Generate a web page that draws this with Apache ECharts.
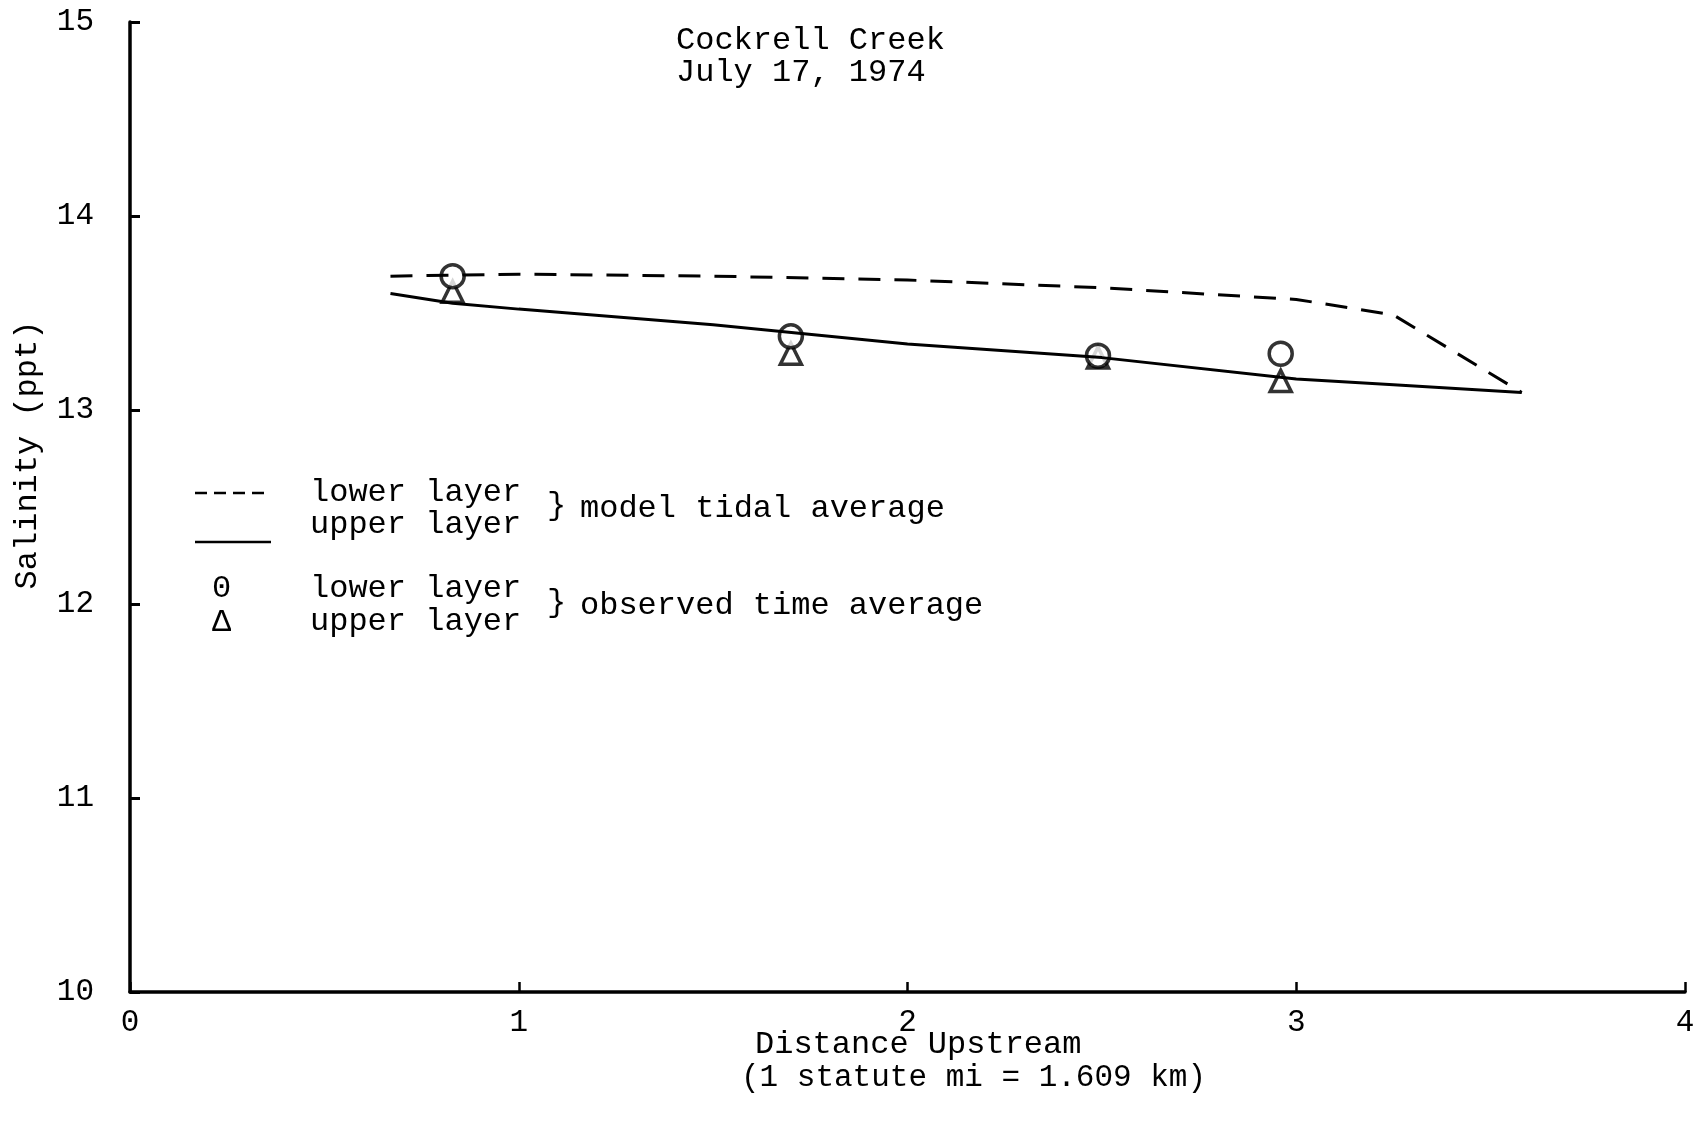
<!DOCTYPE html>
<html>
<head>
<meta charset="utf-8">
<script src="https://cdn.jsdelivr.net/npm/echarts@6/dist/echarts.min.js"></script>
<style>html,body{margin:0;padding:0;background:#fff}#c{width:1698px;height:1124px}</style>
</head>
<body>
<div id="c"></div>
<script>
// ---- data ----
const xTickValues = [0, 1, 2, 3, 4];
const yTickValues = [10, 11, 12, 13, 14, 15];
const modelLowerX = [0.67, 1.0, 1.5, 2.0, 2.5, 3.0, 3.25, 3.58];
const modelLowerY = [13.69, 13.70, 13.69, 13.67, 13.63, 13.57, 13.49, 13.09];
const modelUpperX = [0.67, 0.83, 1.0, 1.5, 2.0, 2.5, 3.0, 3.25, 3.58];
const modelUpperY = [13.60, 13.55, 13.52, 13.44, 13.34, 13.27, 13.16, 13.13, 13.09];
const obsX = [0.83, 1.70, 2.49, 2.96];
const obsLowerY = [13.69, 13.38, 13.28, 13.29];
const obsUpperY = [13.61, 13.29, 13.27, 13.15];
const titleLines = ['Cockrell Creek', 'July 17, 1974'];
const yAxisTitle = 'Salinity (ppt)';
const xAxisTitle = ['Distance Upstream', '(1 statute mi = 1.609 km)'];

const zip = (xs, ys) => xs.map((x, i) => [x, ys[i]]);
const FONT = '"Liberation Mono", "DejaVu Sans Mono", monospace';
const FS = 32;

const chart = echarts.init(document.getElementById('c'), null, {renderer: 'canvas'});
const txt = (left, top, text, size) => ({
  type: 'text', left, top,
  style: {text, font: (size || FS) + 'px ' + FONT, fill: '#000'}
});

chart.setOption({
  animation: false,
  backgroundColor: '#fff',
  grid: {left: 130, right: 13, top: 22, bottom: 132, containLabel: false},
  xAxis: {
    type: 'value', min: 0, max: 4, interval: 1,
    axisLine: {show: true, lineStyle: {color: '#000', width: 3.5}},
    axisTick: {show: true, inside: true, length: 10, lineStyle: {color: '#000', width: 2.5}},
    axisLabel: {margin: 15, fontFamily: FONT, fontSize: FS - 1, color: '#000',
      customValues: xTickValues},
    splitLine: {show: false}
  },
  yAxis: {
    type: 'value', min: 10, max: 15, interval: 1,
    axisLine: {show: true, lineStyle: {color: '#000', width: 3.5}},
    axisTick: {show: true, inside: true, length: 10, lineStyle: {color: '#000', width: 3}},
    axisLabel: {margin: 36, fontFamily: FONT, fontSize: FS - 1, color: '#000',
      customValues: yTickValues},
    splitLine: {show: false}
  },
  series: [
    {type: 'line', name: 'model lower layer', data: zip(modelLowerX, modelLowerY),
      showSymbol: false, symbol: 'none',
      lineStyle: {color: '#000', width: 3, type: [22, 14]}},
    {type: 'line', name: 'model upper layer', data: zip(modelUpperX, modelUpperY),
      showSymbol: false, symbol: 'none',
      lineStyle: {color: '#000', width: 3}},
    {type: 'scatter', name: 'observed upper layer', data: zip(obsX, obsUpperY),
      symbol: 'triangle', symbolSize: 21,
      itemStyle: {color: '#fff', borderColor: '#000', borderWidth: 3.5}},
    {type: 'scatter', name: 'observed lower layer', data: zip(obsX, obsLowerY),
      symbol: 'circle', symbolSize: 23,
      itemStyle: {color: '#fff', borderColor: '#000', borderWidth: 3.5}}
  ],
  graphic: [
    txt(676, 25, titleLines[0]),
    txt(676, 57, titleLines[1]),
    {type: 'text', x: 28, y: 455, rotation: Math.PI / 2,
      style: {text: yAxisTitle, font: FS + 'px ' + FONT, fill: '#000', align: 'center', verticalAlign: 'middle'}},
    txt(755, 1029, xAxisTitle[0]),
    txt(741, 1062, xAxisTitle[1], 31),
    // legend
    {type: 'line', shape: {x1: 195, y1: 493, x2: 269, y2: 493}, style: {stroke: '#000', lineWidth: 2.5, lineDash: [12, 7]}},
    {type: 'line', shape: {x1: 195, y1: 542, x2: 271, y2: 542}, style: {stroke: '#000', lineWidth: 2.5}},
    txt(310, 477, 'lower layer'),
    txt(310, 509, 'upper layer'),
    txt(547, 490, '}'),
    txt(580, 493, 'model tidal average'),
    txt(212, 573, '0'),
    txt(212, 607, 'Δ'),
    txt(310, 573, 'lower layer'),
    txt(310, 606, 'upper layer'),
    txt(547, 587, '}'),
    txt(580, 590, 'observed time average')
  ]
});
</script>
</body>
</html>
